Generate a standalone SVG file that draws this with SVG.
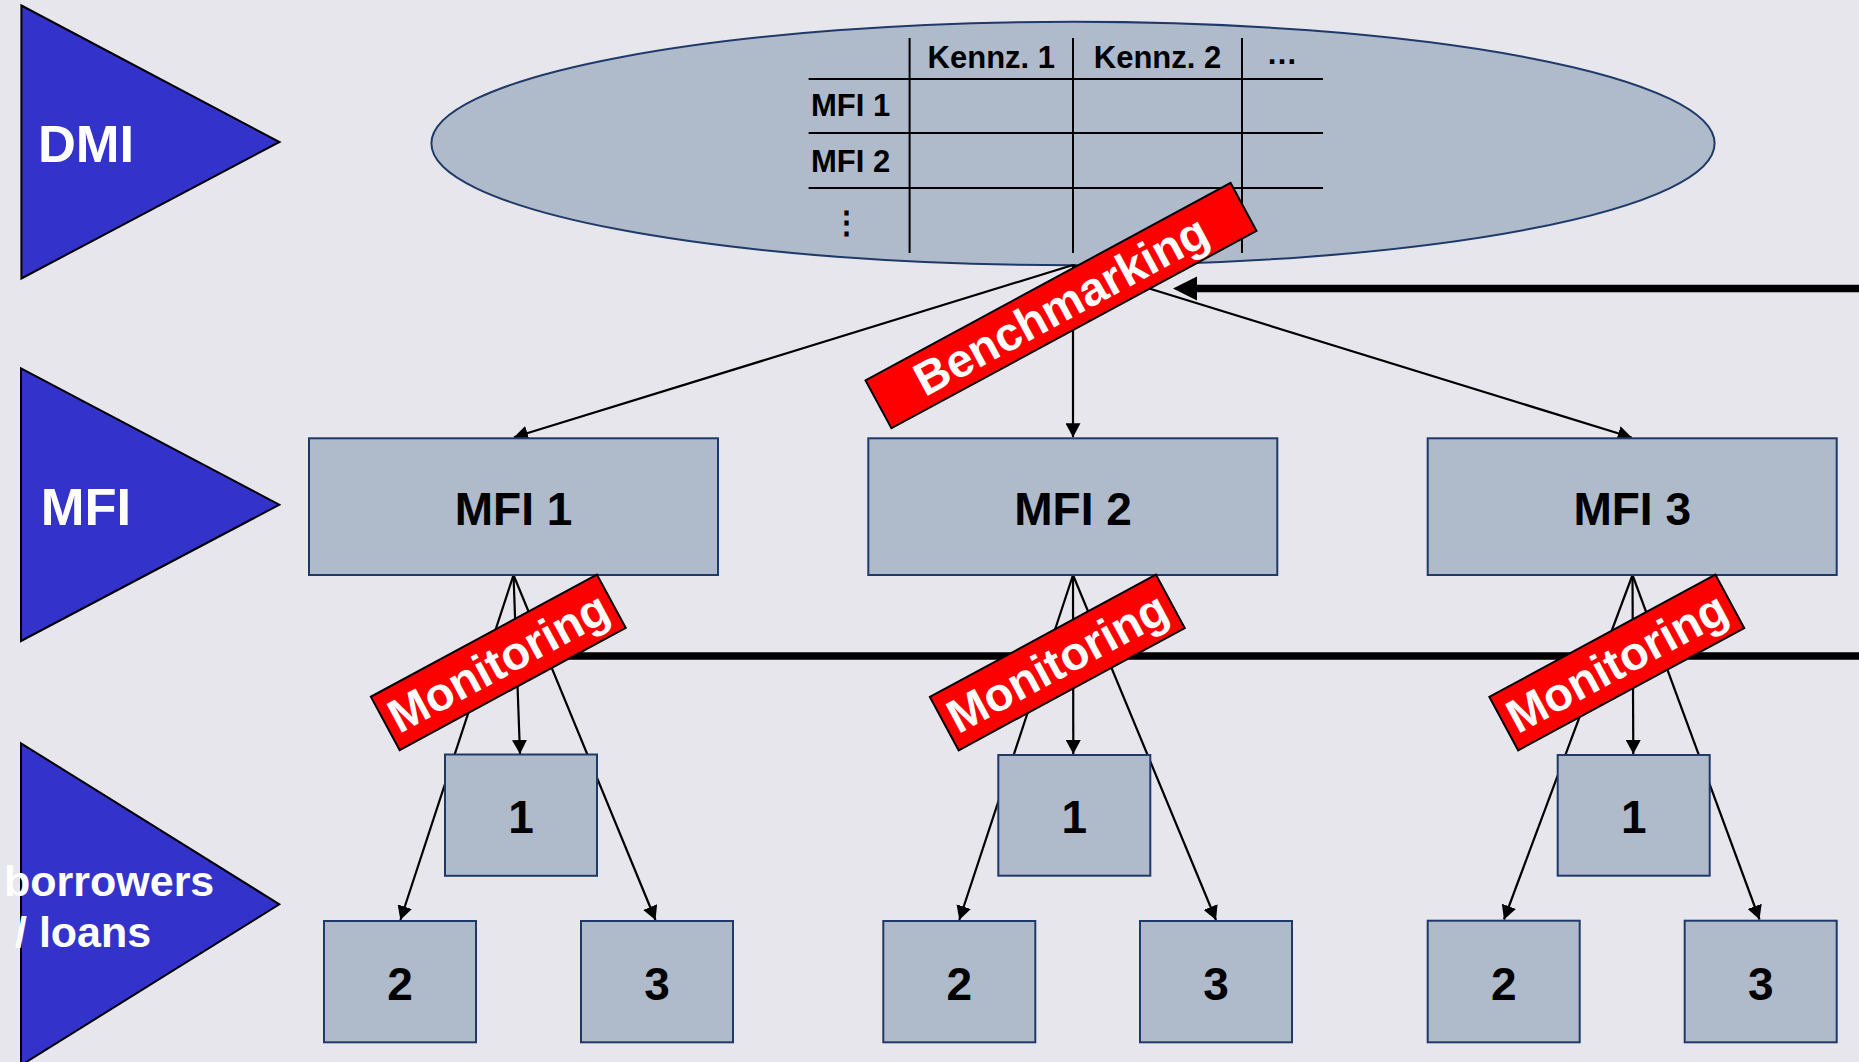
<svg xmlns="http://www.w3.org/2000/svg" width="1859" height="1062" viewBox="0 0 1859 1062">
  <defs>
    <style>
      .bg { fill: #E6E6EC; }
      .tri { fill: #3333CC; stroke: #000; stroke-width: 2; stroke-linejoin: miter; }
      .tri-text { font-family: "Liberation Sans", Arial, sans-serif; font-weight: bold; fill: #fff; }
      .node { fill: #AFBACB; stroke: #1F3A68; stroke-width: 2; }
      .node-text { font-family: "Liberation Sans", Arial, sans-serif; font-weight: bold; font-size: 46px; fill: #000; text-anchor: middle; }
      .grid { stroke: #000; stroke-width: 2; }
      .cell { font-family: "Liberation Sans", Arial, sans-serif; font-weight: bold; font-size: 31px; fill: #000; }
      .link { stroke: #000; stroke-width: 2.2; fill: none; marker-end: url(#arrow); }
      .flow { stroke: #000; stroke-width: 7.5; }
      .tag { fill: #FF0000; stroke: #000; stroke-width: 2; }
      .tag-text { font-family: "Liberation Sans", Arial, sans-serif; font-weight: bold; font-size: 47px; fill: #fff; text-anchor: middle; }
    </style>
    <marker id="arrow" markerUnits="userSpaceOnUse" markerWidth="15" markerHeight="15" refX="14" refY="7.5" orient="auto">
      <path d="M0,0 L14,7.5 L0,15 z" fill="#000"/>
    </marker>
  </defs>

  <rect class="bg" x="0" y="0" width="1859" height="1062"/>

  <!-- level markers -->
  <g id="level-dmi">
    <polygon class="tri" points="21.4,5.5 279.5,142 21.4,278.5"/>
    <text class="tri-text" x="86" y="161.5" font-size="52.5" text-anchor="middle">DMI</text>
  </g>
  <g id="level-mfi">
    <polygon class="tri" points="21,368.3 279.3,504.7 21,641"/>
    <text class="tri-text" x="86" y="524.5" font-size="52.5" text-anchor="middle">MFI</text>
  </g>
  <g id="level-borrowers">
    <polygon class="tri" points="21,743.3 279.3,904.3 21,1065.3"/>
    <text class="tri-text" x="4" y="895.5" font-size="43">borrowers</text>
    <text class="tri-text" x="15" y="946.5" font-size="43">/ loans</text>
  </g>

  <!-- DMI benchmark table -->
  <g id="dmi">
    <ellipse class="node" cx="1073" cy="143.5" rx="641.6" ry="121.7"/>
    <line class="grid" x1="909.6" y1="38" x2="909.6" y2="253"/>
    <line class="grid" x1="1073" y1="38" x2="1073" y2="253"/>
    <line class="grid" x1="1242" y1="38" x2="1242" y2="253"/>
    <line class="grid" x1="808.6" y1="79" x2="1323" y2="79"/>
    <line class="grid" x1="808.6" y1="133" x2="1323" y2="133"/>
    <line class="grid" x1="808.6" y1="188" x2="1323" y2="188"/>
    <text class="cell" x="991.3" y="67.7" text-anchor="middle">Kennz. 1</text>
    <text class="cell" x="1157.5" y="67.7" text-anchor="middle">Kennz. 2</text>
    <text class="cell" x="1282" y="64" text-anchor="middle">…</text>
    <text class="cell" x="811" y="115.7">MFI 1</text>
    <text class="cell" x="811" y="172.3">MFI 2</text>
    <text class="cell" x="846.5" y="233" text-anchor="middle" font-family="'DejaVu Sans', sans-serif">⋮</text>
  </g>

  <!-- connectors -->
  <g id="connectors">
    <line class="link" x1="1073" y1="265" x2="514" y2="437.3"/>
    <line class="link" x1="1073" y1="265" x2="1073" y2="437.3"/>
    <line class="link" x1="1073" y1="265" x2="1631.7" y2="437.5"/>

    <line class="link" x1="513.5" y1="575" x2="520" y2="754"/>
    <line class="link" x1="513.5" y1="575" x2="400.4" y2="920"/>
    <line class="link" x1="513.5" y1="575" x2="655.5" y2="920"/>

    <line class="link" x1="1073" y1="575" x2="1073.3" y2="754"/>
    <line class="link" x1="1073" y1="575" x2="959.3" y2="920"/>
    <line class="link" x1="1073" y1="575" x2="1216" y2="920"/>

    <line class="link" x1="1632.5" y1="575" x2="1633.3" y2="754"/>
    <line class="link" x1="1632.5" y1="575" x2="1504" y2="919.5"/>
    <line class="link" x1="1632.5" y1="575" x2="1759.5" y2="919.5"/>

    <!-- feedback flows -->
    <line class="flow" x1="1859" y1="288.5" x2="1195" y2="288.5"/>
    <polygon points="1173,288.5 1197,276.5 1197,300.5" fill="#000"/>
    <line class="flow" x1="510" y1="656" x2="1859" y2="656"/>
  </g>

  <!-- MFI nodes -->
  <g id="mfi-1">
    <rect class="node" x="309" y="438.3" width="409" height="136.7"/>
    <text class="node-text" x="513.5" y="525">MFI 1</text>
  </g>
  <g id="mfi-2">
    <rect class="node" x="868.3" y="438.3" width="409" height="136.7"/>
    <text class="node-text" x="1073" y="525">MFI 2</text>
  </g>
  <g id="mfi-3">
    <rect class="node" x="1427.7" y="438.3" width="409" height="136.7"/>
    <text class="node-text" x="1632.2" y="525">MFI 3</text>
  </g>

  <!-- borrower nodes, MFI 1 -->
  <g id="mfi-1-loan-1">
    <rect class="node" x="445" y="754.5" width="152" height="121.3"/>
    <text class="node-text" x="521" y="833.3">1</text>
  </g>
  <g id="mfi-1-loan-2">
    <rect class="node" x="324" y="921" width="152" height="121.3"/>
    <text class="node-text" x="400" y="999.5">2</text>
  </g>
  <g id="mfi-1-loan-3">
    <rect class="node" x="581" y="921" width="152" height="121.3"/>
    <text class="node-text" x="657" y="999.5">3</text>
  </g>

  <!-- borrower nodes, MFI 2 -->
  <g id="mfi-2-loan-1">
    <rect class="node" x="998.3" y="755" width="152" height="120.7"/>
    <text class="node-text" x="1074.3" y="833.3">1</text>
  </g>
  <g id="mfi-2-loan-2">
    <rect class="node" x="883.3" y="921" width="152" height="121.3"/>
    <text class="node-text" x="959.3" y="999.5">2</text>
  </g>
  <g id="mfi-2-loan-3">
    <rect class="node" x="1140" y="921" width="152" height="121.3"/>
    <text class="node-text" x="1216" y="999.5">3</text>
  </g>

  <!-- borrower nodes, MFI 3 -->
  <g id="mfi-3-loan-1">
    <rect class="node" x="1557.7" y="755" width="152" height="120.7"/>
    <text class="node-text" x="1633.7" y="833.3">1</text>
  </g>
  <g id="mfi-3-loan-2">
    <rect class="node" x="1427.7" y="920.7" width="152" height="121.6"/>
    <text class="node-text" x="1503.7" y="999.5">2</text>
  </g>
  <g id="mfi-3-loan-3">
    <rect class="node" x="1684.7" y="920.7" width="152" height="121.6"/>
    <text class="node-text" x="1760.7" y="999.5">3</text>
  </g>

  <!-- process tags -->
  <g id="tag-benchmarking" transform="translate(1061,305.6) rotate(-28.4)">
    <rect class="tag" x="-207.5" y="-27.25" width="415" height="54.5"/>
    <text class="tag-text" x="0" y="16" font-size="48">Benchmarking</text>
  </g>
  <g id="tag-monitoring-1" transform="translate(498.3,662.3) rotate(-28.4)">
    <rect class="tag" x="-128.5" y="-30.3" width="257" height="60.6"/>
    <text class="tag-text" x="0" y="16">Monitoring</text>
  </g>
  <g id="tag-monitoring-2" transform="translate(1057.3,662.5) rotate(-28.4)">
    <rect class="tag" x="-128.5" y="-30.3" width="257" height="60.6"/>
    <text class="tag-text" x="0" y="16">Monitoring</text>
  </g>
  <g id="tag-monitoring-3" transform="translate(1616.8,662.5) rotate(-28.4)">
    <rect class="tag" x="-128.5" y="-30.3" width="257" height="60.6"/>
    <text class="tag-text" x="0" y="16">Monitoring</text>
  </g>
</svg>
